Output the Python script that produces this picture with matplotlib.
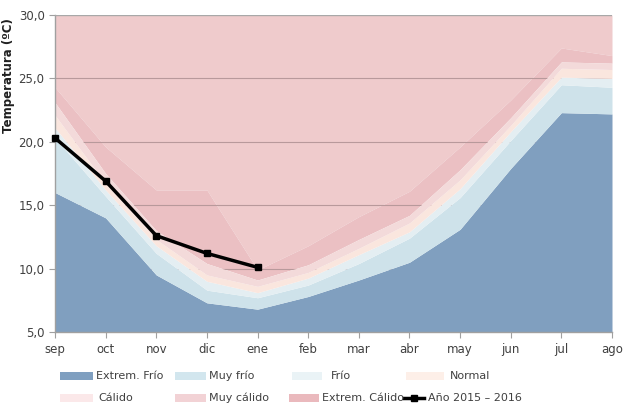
import matplotlib
matplotlib.use("Agg")
import matplotlib.pyplot as plt
from matplotlib.patches import Rectangle
from matplotlib.lines import Line2D

months = ["sep", "oct", "nov", "dic", "ene", "feb", "mar", "abr", "may", "jun", "jul", "ago"]

# upper limits of each category (ºC)
extrem_frio = [16.0, 14.0, 9.5, 7.3, 6.8, 7.8, 9.1, 10.5, 13.1, 17.9, 22.3, 22.2]
muy_frio    = [20.3, 15.7, 11.2, 8.3, 7.7, 8.7, 10.4, 12.4, 15.6, 20.1, 24.5, 24.3]
frio        = [21.1, 16.2, 11.8, 9.0, 8.1, 9.25, 11.1, 12.9, 16.3, 20.8, 25.1, 25.0]
normal      = [22.1, 16.7, 12.3, 9.5, 8.6, 9.7, 11.6, 13.6, 17.0, 21.3, 25.8, 25.7]
calido      = [23.1, 17.5, 13.0, 10.4, 9.1, 10.3, 12.3, 14.2, 17.8, 21.9, 26.3, 26.2]
muy_calido  = [24.3, 19.6, 16.2, 16.2, 9.9, 11.8, 14.1, 16.1, 19.6, 23.3, 27.4, 26.8]
extrem_calido_top = [30.0] * 12

anio_months = ["sep", "oct", "nov", "dic", "ene"]
anio_vals = [20.3, 16.9, 12.6, 11.2, 10.1]

labels = ["Extrem. Frío", "Muy frío", "Frío", "Normal", "Cálido", "Muy cálido", "Extrem. Cálido"]
fill_colors = ["#809fbf", "#cee2ea", "#e4eef2", "#fae6de", "#f3dada", "#ebc0c3", "#efcbcc"]
legend_colors = ["#7f9fc0", "#d2e6ee", "#eaf3f6", "#fdefe8", "#fbe8e9", "#f2d2d5", "#eab9bd"]

plt.rcParams['font.family'] = ['DejaVu Sans']
fig = plt.figure(figsize=(6.32, 4.07), dpi=100)
ax = fig.add_axes([55/632, 1-332/407, (612-55)/632, (332-15)/407])

x = list(range(len(months)))
bounds = [[5.0]*12, extrem_frio, muy_frio, frio, normal, calido, muy_calido, extrem_calido_top]
zorders = [2, 2, 2, 2, 2, 1, 0.5]
for i in range(7):
    ax.fill_between(x, bounds[i], bounds[i+1], color=fill_colors[i], lw=0, zorder=zorders[i])

for v in [10, 15, 20, 25]:
    ax.axhline(v, color="#b8999b", lw=0.8, zorder=1.5)
ax.axhline(30, color="#a8a8a8", lw=1.0, zorder=3)

xi = [months.index(m) for m in anio_months]
ax.plot(xi, anio_vals, color="black", lw=2.5, marker="s", ms=5, zorder=4, clip_on=False)

ax.set_xlim(0, 11)
ax.set_ylim(5, 30)
ax.set_xticks(x)
ax.set_xticklabels(months)
ax.set_yticks([5, 10, 15, 20, 25, 30])
ax.set_yticklabels(["5,0", "10,0", "15,0", "20,0", "25,0", "30,0"])
for s in ["top", "right"]:
    ax.spines[s].set_visible(False)
for s in ["left", "bottom"]:
    ax.spines[s].set_color("#a0a0a0")
    ax.spines[s].set_linewidth(1.0)
ax.tick_params(axis="both", colors="#a0a0a0", labelcolor="#404040", labelsize=8.5, length=4)
ax.tick_params(axis="x", pad=4)

fig.text(9/632, 1-76/407, "Temperatura (ºC)", rotation=90, fontsize=8.5, fontweight="bold",
         ha="center", va="center", color="#202020")

# legend
def fx(px): return px/632
def fy(py): return 1-py/407
row1 = 376
row2 = 398
items = [
    (60, 33, 96, row1, 0), (175, 31, 209, row1, 1), (292, 30, 331, row1, 2), (406, 38, 450, row1, 3),
    (60, 33, 98, row2, 4), (175, 31, 209, row2, 5), (289, 30, 322, row2, 6),
]
for px, w, tx, py, k in items:
    fig.add_artist(Rectangle((fx(px), fy(py+4)), w/632, 8/407, facecolor=legend_colors[k],
                             edgecolor="none", transform=fig.transFigure))
    fig.text(fx(tx), fy(py), labels[k], fontsize=8, va="center", ha="left", color="#404040")
fig.add_artist(Line2D([fx(404), fx(424)], [fy(row2), fy(row2)], color="black", lw=2.5,
                      transform=fig.transFigure))
fig.add_artist(Line2D([fx(414)], [fy(row2)], color="black", marker="s", ms=5,
                      transform=fig.transFigure))
fig.text(fx(428), fy(row2), "Año 2015 – 2016", fontsize=8, va="center", ha="left", color="#404040")

fig.savefig("out.png", dpi=100)
